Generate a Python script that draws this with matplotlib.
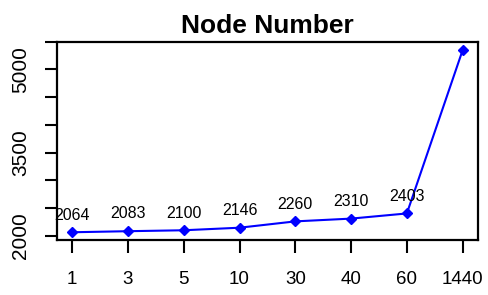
import matplotlib
matplotlib.use("Agg")
import matplotlib.pyplot as plt
import numpy as np

plt.rcParams['font.family'] = ['Liberation Sans', 'DejaVu Sans']

categories = ["1", "3", "5", "10", "30", "40", "60", "1440"]
nodes = [2064, 2083, 2100, 2146, 2260, 2310, 2403, 5345]
labels = ["2064", "2083", "2100", "2146", "2260", "2310", "2403", ""]
yticks = [2000, 2500, 3000, 3500, 4000, 4500, 5000, 5500]
yticklabels = ["2000", "", "", "3500", "", "", "5000", ""]


def main():
    fig = plt.figure(figsize=(4.88, 2.95), dpi=100)
    ax = fig.add_axes([0.116, 0.188, 0.864, 0.671])

    x = np.arange(1, len(nodes) + 1)
    ax.plot(x, nodes, color='#0000ff', lw=1.5, marker='D', ms=5, mec='#0000ff', mfc='#0000ff')

    for xi, yi, lab in zip(x, nodes, labels):
        if lab:
            ax.annotate(lab, (xi, yi), xytext=(0, 7), textcoords='offset points',
                        ha='center', va='bottom', fontsize=11.5)

    rng = max(nodes) - min(nodes)
    ax.set_ylim(min(nodes) - 0.04 * rng, max(nodes) + 0.04 * rng)
    ax.set_xlim(1 - 0.04 * 7, 8 + 0.04 * 7)

    ax.set_xticks(x)
    ax.set_xticklabels(categories, fontsize=13.5)
    ax.set_yticks(yticks)
    ax.set_yticklabels(yticklabels, fontsize=15, rotation=90, va='center')
    ax.tick_params(axis='both', direction='out', length=9, width=1.5)
    ax.tick_params(axis='x', pad=14)
    ax.tick_params(axis='y', pad=10)
    for s in ax.spines.values():
        s.set_linewidth(1.6)

    ax.set_title("Node Number", fontsize=19, fontweight='bold', pad=6)

    fig.savefig("out.png", dpi=100)


main()
